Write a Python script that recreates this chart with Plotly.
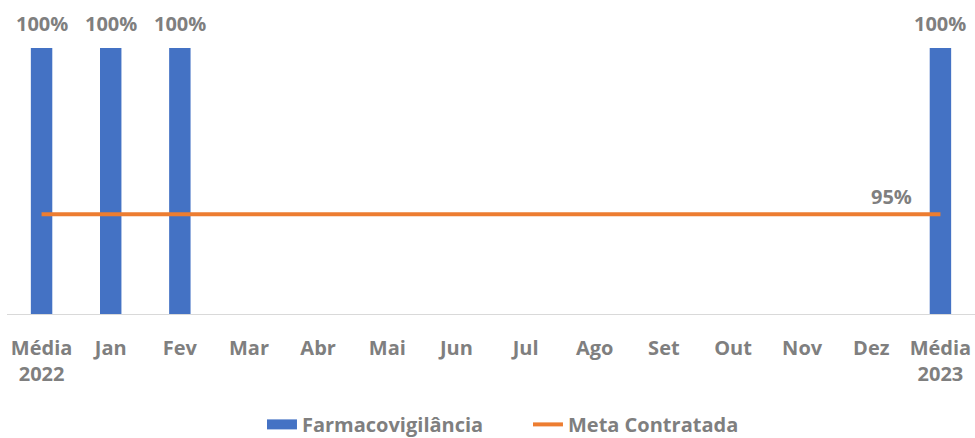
import plotly.graph_objects as go

categories = ["Média<br>2022", "Jan", "Fev", "Mar", "Abr", "Mai", "Jun", "Jul", "Ago", "Set", "Out", "Nov", "Dez", "Média<br>2023"]
farmaco = [100, 100, 100, None, None, None, None, None, None, None, None, None, None, 100]
meta = [95] * 14

GRAY = "#7F7F7F"
BLUE = "#4472C4"
ORANGE = "#ED7D31"
FONT = "Open Sans"

fig = go.Figure()
fig.add_trace(go.Bar(
    x=categories, y=farmaco, name="Farmacovigilância",
    marker=dict(color=BLUE, line=dict(width=0)), width=0.31,
    showlegend=False,
))
# legend-only entry with a wide rectangular swatch, as in the reference
fig.add_trace(go.Scatter(
    x=[None], y=[None], name="Farmacovigilância", mode="lines",
    line=dict(color=BLUE, width=14),
))
fig.add_trace(go.Scatter(
    x=categories, y=meta, name="Meta Contratada", mode="lines",
    line=dict(color=ORANGE, width=4),
))

for cat, v in zip(categories, farmaco):
    if v is not None:
        fig.add_annotation(
            x=cat, y=v, text=f"{v:.0f}%", showarrow=False,
            xanchor="center", yanchor="bottom", yshift=9,
            font=dict(color=GRAY, size=20, family=FONT, weight="bold"),
        )

fig.add_annotation(
    x=categories[-1], y=meta[-1], text=f"{meta[-1]}%", showarrow=False,
    xanchor="right", yanchor="bottom", xshift=-26, yshift=2,
    font=dict(color=GRAY, size=20, family=FONT, weight="bold"),
)

fig.update_layout(
    width=975, height=438,
    margin=dict(l=7, r=0, t=48, b=124, autoexpand=False),
    plot_bgcolor="white", paper_bgcolor="white",
    barmode="overlay",
    font=dict(family=FONT, color=GRAY),
    xaxis=dict(
        automargin=False,
        showline=True, linecolor="#D9D9D9", linewidth=1,
        ticks="outside", ticklen=16, tickcolor="rgba(0,0,0,0)",
        tickfont=dict(size=20, color=GRAY, family=FONT, weight="bold"),
        showgrid=False,
    ),
    yaxis=dict(range=[92, 100], visible=False, showgrid=False, automargin=False),
    legend=dict(
        orientation="h", x=0.2634, xanchor="left", y=-0.415, yanchor="middle",
        font=dict(size=20, color=GRAY, family=FONT, weight="bold"),
        entrywidth=221, entrywidthmode="pixels",
        tracegroupgap=0,
    ),
    showlegend=True,
)

fig.write_html("out.html", config={"displayModeBar": False},
               post_script="document.body.style.margin='0';")
